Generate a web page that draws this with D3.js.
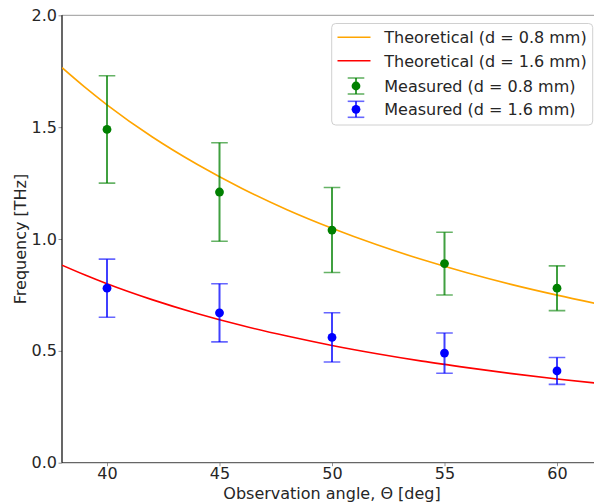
<!DOCTYPE html>
<html>
<head>
<meta charset="utf-8">
<script src="https://cdn.jsdelivr.net/npm/d3@7"></script>
<style>
  body { margin: 0; background: #fff; }
  svg { display: block; font-family: "DejaVu Sans", sans-serif; }
</style>
</head>
<body>
<div id="chart"></div>
<script>
// measured points
var angles = [40, 45, 50, 55, 60];
var meas08 = [1.49, 1.21, 1.04, 0.89, 0.78];
var err08 = [0.24, 0.22, 0.19, 0.14, 0.10];
var meas16 = [0.78, 0.67, 0.56, 0.49, 0.41];
var err16 = [0.13, 0.13, 0.11, 0.09, 0.06];

// theoretical curves
var theoAngles = [38, 39, 40, 42, 44, 46, 48, 50, 52, 54, 56, 58, 60, 62];
var theo08 = [1.766, 1.680, 1.600, 1.457, 1.334, 1.226, 1.131, 1.048, 0.974, 0.908, 0.849, 0.796, 0.749, 0.706];
var theo16 = [0.883, 0.840, 0.800, 0.729, 0.667, 0.613, 0.566, 0.524, 0.487, 0.454, 0.425, 0.398, 0.374, 0.353];

var xTicks = [40, 45, 50, 55, 60];
var yTicks = [0, 0.5, 1.0, 1.5, 2.0];
var legendLabels = ["Theoretical (d = 0.8 mm)", "Theoretical (d = 1.6 mm)",
                    "Measured (d = 0.8 mm)", "Measured (d = 1.6 mm)"];

var width = 594, height = 502;
var margin = {top: 15.3, left: 62, bottom: 462.7, right: 602};
var fs = "16px";

var svg = d3.select("#chart").append("svg")
  .attr("width", width)
  .attr("height", height);

var x = d3.scaleLinear().domain([38, 62]).range([margin.left, margin.right]);
var y = d3.scaleLinear().domain([0, 2.0]).range([margin.bottom, margin.top]);

// axes
var yAxis = svg.append("g")
  .attr("transform", `translate(${margin.left},0)`)
  .call(d3.axisLeft(y).tickValues(yTicks).tickFormat(d3.format(".1f")).tickSize(3.5).tickPadding(1.5));
var xAxis = svg.append("g")
  .attr("transform", `translate(0,${margin.bottom})`)
  .call(d3.axisBottom(x).tickValues(xTicks).tickSize(3.5).tickPadding(1.2));

[xAxis, yAxis].forEach(function(a) {
  a.select(".domain").remove();
  a.selectAll("line").attr("stroke", "#777").attr("stroke-width", 0.8);
  a.selectAll("text").attr("fill", "#262626").style("font-size", fs).style("font-family", "DejaVu Sans");
});

// spines
svg.append("line")
  .attr("x1", margin.left).attr("x2", width)
  .attr("y1", margin.top).attr("y2", margin.top)
  .attr("stroke", "#999").attr("stroke-width", 1);
svg.append("line")
  .attr("x1", margin.left).attr("x2", width)
  .attr("y1", margin.bottom).attr("y2", margin.bottom)
  .attr("stroke", "#666").attr("stroke-width", 1.2);
svg.append("line")
  .attr("x1", margin.left).attr("x2", margin.left)
  .attr("y1", margin.top).attr("y2", margin.bottom)
  .attr("stroke", "#000").attr("stroke-width", 1.2);

// axis labels
svg.append("text")
  .attr("x", (margin.left + margin.right) / 2)
  .attr("y", 498.5)
  .attr("text-anchor", "middle")
  .attr("fill", "#262626")
  .style("font-size", fs)
  .text("Observation angle, \u0398 [deg]");
svg.append("text")
  .attr("transform", `translate(26,${(margin.top + margin.bottom) / 2}) rotate(-90)`)
  .attr("text-anchor", "middle")
  .attr("fill", "#262626")
  .style("font-size", fs)
  .text("Frequency [THz]");

// clip to plot area
svg.append("clipPath").attr("id", "plotclip")
  .append("rect")
  .attr("x", margin.left).attr("y", margin.top)
  .attr("width", margin.right - margin.left)
  .attr("height", margin.bottom - margin.top);

var plot = svg.append("g").attr("clip-path", "url(#plotclip)");

var line = d3.line()
  .x(d => x(d[0]))
  .y(d => y(d[1]))
  .curve(d3.curveMonotoneX);

plot.append("path")
  .datum(d3.zip(theoAngles, theo08))
  .attr("fill", "none")
  .attr("stroke", "orange")
  .attr("stroke-width", 1.6)
  .attr("d", line);
plot.append("path")
  .datum(d3.zip(theoAngles, theo16))
  .attr("fill", "none")
  .attr("stroke", "red")
  .attr("stroke-width", 1.6)
  .attr("d", line);

// error bars
function errorBars(vals, errs, color) {
  var g = plot.append("g");
  var pts = angles.map((a, i) => ({a: a, v: vals[i], e: errs[i]}));
  var capW = 8.3;
  g.selectAll("line.bar").data(pts).join("line")
    .attr("class", "bar")
    .attr("x1", d => x(d.a)).attr("x2", d => x(d.a))
    .attr("y1", d => y(d.v + d.e)).attr("y2", d => y(d.v - d.e))
    .attr("stroke", color).attr("stroke-opacity", 0.75).attr("stroke-width", 2);
  g.selectAll("line.capTop").data(pts).join("line")
    .attr("class", "capTop")
    .attr("x1", d => x(d.a) - capW).attr("x2", d => x(d.a) + capW)
    .attr("y1", d => y(d.v + d.e)).attr("y2", d => y(d.v + d.e))
    .attr("stroke", color).attr("stroke-opacity", 0.6).attr("stroke-width", 1.6);
  g.selectAll("line.capBot").data(pts).join("line")
    .attr("class", "capBot")
    .attr("x1", d => x(d.a) - capW).attr("x2", d => x(d.a) + capW)
    .attr("y1", d => y(d.v - d.e)).attr("y2", d => y(d.v - d.e))
    .attr("stroke", color).attr("stroke-opacity", 0.6).attr("stroke-width", 1.6);
  g.selectAll("circle").data(pts).join("circle")
    .attr("cx", d => x(d.a)).attr("cy", d => y(d.v))
    .attr("r", 4.4)
    .attr("fill", color);
}
errorBars(meas08, err08, "green");
errorBars(meas16, err16, "blue");

// legend
var leg = svg.append("g");
leg.append("rect")
  .attr("x", 331.7).attr("y", 23.5)
  .attr("width", 261).attr("height", 101.5)
  .attr("rx", 4)
  .attr("fill", "#fff").attr("fill-opacity", 0.8)
  .attr("stroke", "#d0d0d0").attr("stroke-width", 1);

var rowY = [37.3, 60.7, 86, 109.3];
var legColors = ["orange", "red", "green", "blue"];
legendLabels.forEach(function(lbl, i) {
  var ry = rowY[i];
  if (i < 2) {
    leg.append("line")
      .attr("x1", 337.5).attr("x2", 370.5)
      .attr("y1", ry).attr("y2", ry)
      .attr("stroke", legColors[i]).attr("stroke-width", 1.6);
  } else {
    var cx = 356;
    leg.append("line")
      .attr("x1", cx).attr("x2", cx).attr("y1", ry - 8).attr("y2", ry + 8)
      .attr("stroke", legColors[i]).attr("stroke-opacity", 0.75).attr("stroke-width", 2);
    [ry - 8, ry + 8].forEach(function(cy) {
      leg.append("line")
        .attr("x1", cx - 8.3).attr("x2", cx + 8.3).attr("y1", cy).attr("y2", cy)
        .attr("stroke", legColors[i]).attr("stroke-opacity", 0.6).attr("stroke-width", 1.6);
    });
    leg.append("circle").attr("cx", cx).attr("cy", ry).attr("r", 4.4).attr("fill", legColors[i]);
  }
  leg.append("text")
    .attr("x", 384.3).attr("y", ry + 5.8)
    .attr("fill", "#262626")
    .style("font-size", fs)
    .text(lbl);
});
</script>
</body>
</html>
